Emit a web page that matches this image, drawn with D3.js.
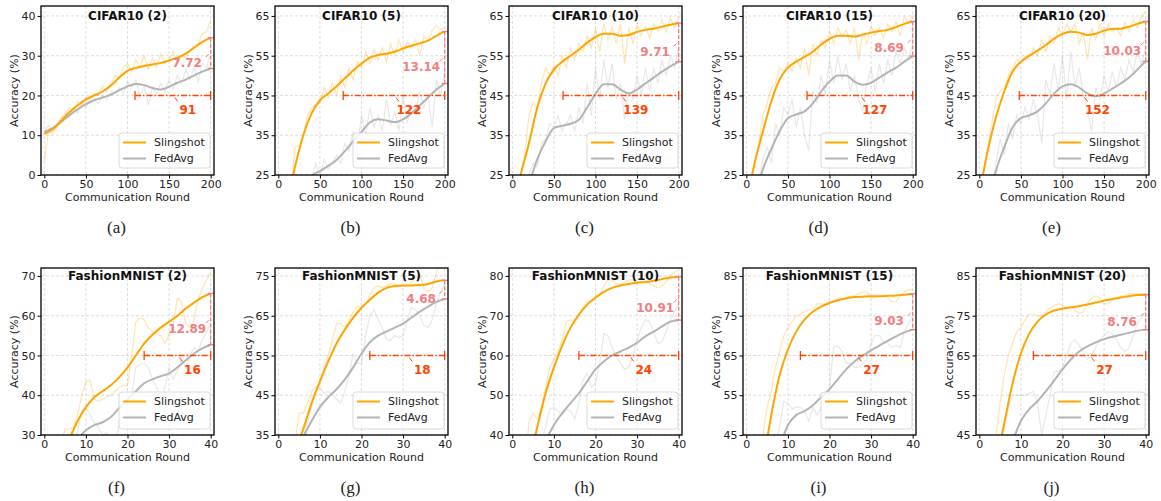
<!DOCTYPE html>
<html>
<head>
<meta charset="utf-8">
<script src="https://cdn.jsdelivr.net/npm/d3@7"></script>
<style>
    body { margin: 0; background: #fff; }
    svg text { font-family: 'DejaVu Sans', sans-serif; fill: #222; }
</style>
</head>
<body>
<svg id="chart" width="1161" height="501"></svg>
<script>
// rounds for the CIFAR10 panels (top) and FashionMNIST panels (bottom)
const cifarSmoothX = d3.range(0, 201, 10);
const cifarRawX = d3.range(0, 201, 5);
const fmnistSmoothX = d3.range(0, 41, 2);
const fmnistRawX = d3.range(0, 41, 1);

const titles = ['CIFAR10 (2)', 'CIFAR10 (5)', 'CIFAR10 (10)', 'CIFAR10 (15)', 'CIFAR10 (20)',
    'FashionMNIST (2)', 'FashionMNIST (5)', 'FashionMNIST (10)', 'FashionMNIST (15)', 'FashionMNIST (20)'];
const captions = ['(a)', '(b)', '(c)', '(d)', '(e)', '(f)', '(g)', '(h)', '(i)', '(j)'];
const yDomains = [[0, 42.5], [25, 67.5], [25, 67.5], [25, 67.5], [25, 67.5],
    [30, 72], [35, 77], [40, 82], [45, 87], [45, 87]];
const yTicks = [[0, 10, 20, 30, 40], [25, 35, 45, 55, 65], [25, 35, 45, 55, 65], [25, 35, 45, 55, 65], [25, 35, 45, 55, 65],
    [30, 40, 50, 60, 70], [35, 45, 55, 65, 75], [40, 50, 60, 70, 80], [45, 55, 65, 75, 85], [45, 55, 65, 75, 85]];
const cifarXTicks = [0, 50, 100, 150, 200];
const fmnistXTicks = [0, 10, 20, 30, 40];

// annotations: accuracy gap at the last round, rounds saved at a target accuracy
const accGap = ['7.72', '13.14', '9.71', '8.69', '10.03', '12.89', '4.68', '10.91', '9.03', '8.76'];
const roundGap = [91, 122, 139, 127, 152, 16, 18, 24, 27, 27];
const targetAcc = [20, 45, 45, 45, 45, 50, 55, 60, 65, 65];

// smoothed curves
const c2Sling = [10.3, 11.5, 13.5, 15.8, 17.5, 19, 20, 21, 22.5, 24.5, 26.2, 26.9, 27.4, 27.8, 28.2, 28.8, 29.5, 30.5, 32, 33.5, 34.5];
const c2Fed = [10.8, 11.8, 13.3, 15, 16.5, 17.8, 18.8, 19.5, 20.2, 21.3, 22.3, 22.9, 22.6, 21.9, 21.5, 22.2, 23.2, 24, 25, 26, 26.8];
const c5Sling = [10, 17, 27, 35, 40.5, 43.8, 45.5, 47.3, 49.3, 51.3, 53, 54.5, 55.2, 55.5, 56, 56.8, 57.5, 58.1, 58.8, 60, 61.1];
const c5Fed = [10, 14, 18, 21.5, 24.8, 26, 27.3, 28.8, 31, 33.5, 35.8, 38.2, 39, 38.7, 38.3, 39, 40.5, 42.5, 44.5, 46.5, 48];
const c10Sling = [15, 25, 33, 42, 48, 51.5, 53.5, 55, 56.5, 58.3, 59.7, 60.5, 60.5, 60, 60.2, 61, 61.5, 61.8, 62.3, 62.8, 63.2];
const c10Fed = [10, 15, 22.5, 29, 33.5, 36.8, 37.4, 37.9, 38.9, 42, 45.4, 47.8, 47.8, 46.5, 45.5, 46.5, 48, 49.5, 51, 52.3, 53.5];
const c15Sling = [18, 28, 36, 43.5, 49, 52, 53.5, 54.7, 56, 57.8, 59.2, 60, 60, 59.8, 60.3, 60.8, 61.2, 61.5, 62.2, 63, 63.6];
const c15Fed = [12, 19, 26.5, 31.5, 36, 39.3, 40.2, 41, 43, 46, 48.5, 50, 50, 48.5, 47.7, 48.2, 49.5, 50.8, 52, 53.5, 54.9];
const c20Sling = [20, 31, 39.5, 46, 51, 53.5, 55, 56.3, 57.7, 59.3, 60.5, 61, 60.8, 60.2, 60.5, 61.3, 61.7, 61.8, 62.3, 63, 63.6];
const c20Fed = [10, 17, 26, 32, 37, 39.3, 40, 41, 43, 45.5, 47.3, 47.8, 47, 45.5, 44.8, 45.5, 46.7, 48, 49.5, 51.5, 53.6];
const f2Sling = [18, 21, 25, 29, 33.5, 37, 39.5, 41, 42.5, 44.5, 47, 50, 53, 55.2, 57, 58.5, 60, 61.8, 63.3, 64.7, 65.6];
const f2Fed = [20, 22, 24, 26.5, 29, 31.2, 32.5, 33.2, 34.5, 36.8, 39, 41, 43, 44, 44.8, 45.5, 47, 48.8, 50.5, 51.8, 52.7];
const f5Sling = [20, 25, 31, 36.5, 43, 48.5, 53.5, 58, 61.5, 64.5, 67, 69, 70.8, 72, 72.5, 72.6, 72.6, 72.7, 73, 73.6, 73.9];
const f5Fed = [22, 26, 30, 34.5, 38.5, 42, 44.5, 46.5, 49, 52, 55.5, 58.3, 60, 61, 62, 63, 64.5, 66, 67.3, 68.5, 69.2];
const f10Sling = [20, 26, 33, 42, 50.5, 57, 62.5, 67, 70.3, 72.8, 74.6, 76, 77, 77.6, 78, 78.3, 78.5, 78.8, 79.2, 79.6, 79.8];
const f10Fed = [20, 25, 30, 34.5, 38.5, 42.5, 45.5, 48, 50.5, 53.5, 56.5, 58.5, 60, 61, 62, 63.2, 64.8, 66, 67.3, 68.5, 68.9];
const f15Sling = [25, 30, 38, 50, 60, 66.5, 71, 74, 76, 77.3, 78.2, 78.9, 79.4, 79.7, 79.8, 79.9, 79.9, 80, 80.1, 80.3, 80.5];
const f15Fed = [25, 29, 33, 37, 42, 47.5, 50, 51, 52.5, 54.5, 56.5, 59, 61.5, 63.5, 65, 66.3, 67.5, 68.7, 69.8, 70.8, 71.5];
const f20Sling = [25, 30, 38, 48, 58, 65.5, 70.5, 73.5, 75.3, 76.3, 76.8, 77.1, 77.4, 77.8, 78.3, 78.8, 79.2, 79.6, 79.9, 80.2, 80.3];
const f20Fed = [25, 29, 33, 37.5, 43.5, 48.5, 51.5, 53.5, 56, 58.7, 61.5, 64, 66, 67.3, 68.3, 69.1, 69.7, 70.2, 70.7, 71.2, 71.5];

// raw (unsmoothed) curves
const c2SlingRaw = [3.5, 11, 10.5, 12, 14.5, 15, 17, 16, 18.5, 17.5, 19.5, 19, 20.5, 20, 22.5, 21, 23, 25, 24.5, 27, 28, 26, 29, 27, 30, 26.5, 29.5, 27, 30.5, 28, 29, 31, 28, 30, 29.5, 31, 32.5, 33, 35.5, 36, 39];
const c2FedRaw = [11, 12.5, 11, 13, 14, 15.5, 14.5, 17, 15.5, 18.5, 17, 18.5, 19, 18, 20, 19, 21, 20.5, 22, 20.5, 23.5, 22, 24, 19.5, 22.5, 17.5, 22, 20.5, 23, 21, 24, 21.5, 25, 23, 26.5, 24, 27, 23.5, 28, 27, 30.5];
const c5SlingRaw = [10, 12, 16, 21, 32, 32.5, 35, 40, 42, 42.5, 43, 47, 44.5, 48, 45, 50, 47, 52, 49, 53.5, 52, 56, 53, 56.5, 54, 57, 53.5, 58, 55, 59, 56, 58.5, 57, 59, 55, 60, 58.5, 61.5, 62.5, 61.5, 62];
const c5FedRaw = [10, 13, 15, 17, 19, 21, 22, 23, 24, 28, 24.5, 29, 26.5, 28, 30, 28, 33, 31, 36, 32, 40, 35, 42, 37, 40, 36, 44, 37.5, 41, 36, 45, 38, 43, 41, 46, 42, 45, 37, 49, 45, 51];
const c10SlingRaw = [15, 20, 25, 30, 40, 43, 42, 48, 52, 50, 52.5, 50, 55, 52, 57, 54, 58, 56, 60, 57, 62, 56, 63, 59, 62, 58, 63, 53, 62, 58, 63, 60, 62.5, 59.5, 63, 61, 64, 61, 64.5, 62, 65];
const c10FedRaw = [10, 12, 15, 20, 25, 28, 27, 33, 34, 38, 37, 40, 36, 38, 40, 36, 42, 38, 48, 40, 52, 44, 54, 47, 53, 44, 48, 39, 46, 44, 50, 45, 52, 46, 52, 48, 54, 50, 55, 52, 57];
const c15SlingRaw = [18, 22, 28, 33, 40, 43, 47, 48, 52, 51, 53, 51, 54.5, 52, 57, 50, 58, 55, 59, 57, 61, 58, 62, 60, 61.5, 58, 62, 54, 61, 58, 62.5, 60, 62, 59.5, 63, 61, 63.5, 60, 65, 63, 65.5];
const c15FedRaw = [12, 15, 19, 24, 29, 32, 28, 38, 35, 42, 40, 44, 37, 42, 35, 31, 46, 43, 50, 45, 54, 48, 55, 49, 53, 46, 50, 44, 41, 48, 52, 46, 53, 48, 54, 50, 56, 53, 57, 54, 58];
const c20SlingRaw = [20, 26, 32, 38, 44, 46, 47, 50, 52, 54, 53, 55, 54, 57, 55, 59, 56, 60, 58, 62, 60, 63, 61, 63, 58, 61, 54, 62, 59, 63, 60, 63, 61, 62, 60, 63.5, 61, 64, 62, 65, 66];
const c20FedRaw = [10, 13, 17, 22, 28, 34, 30, 38, 34, 40, 38, 42, 39, 44, 40, 33, 49, 45, 53, 46, 55, 44, 56, 47, 52, 45, 41, 36, 47, 44, 50, 46, 51, 47, 52, 49, 54, 51, 56, 53, 57];
const f2SlingRaw = [18, 19, 21, 24, 28, 31.5, 31.5, 32, 35, 40, 43.5, 43.8, 39, 38.5, 39, 39.5, 40, 41, 42, 42.5, 42.5, 50, 58.5, 59.5, 59, 57, 56, 55.5, 55, 53, 55, 58, 64.5, 63.5, 58, 57, 59, 64, 67, 69, 71];
const f2FedRaw = [20, 21, 22, 23, 24, 25, 27, 28, 31, 36, 37, 35, 33, 32, 30, 30.5, 28, 27, 33, 36, 39, 40, 47, 47.8, 48, 47, 44, 42, 39, 42, 47, 44, 46, 49, 47, 50, 52, 51, 54, 56, 58];
const f5SlingRaw = [20, 22, 25, 28, 33, 40.5, 40.5, 43, 46, 47, 48, 52, 55, 59, 63, 63, 62, 64, 66, 67.5, 67, 68, 70, 72, 72.5, 72, 72.5, 73, 73, 72.5, 72.5, 72.5, 73.5, 74.5, 75, 72, 71, 72, 76, 78, 80];
const f5FedRaw = [22, 24, 26, 28, 30, 32, 35, 38, 42, 46, 47, 45.5, 46, 45, 44, 43, 46, 50, 55.5, 53, 53, 60, 65, 66.5, 64, 62, 59, 58.8, 60, 59.5, 60, 64, 67, 66.5, 65, 62.5, 62, 64, 68, 71, 73];
const f10SlingRaw = [20, 23, 26, 30, 43.5, 45.5, 44, 47, 52, 57, 59, 61, 64, 68.5, 69, 68, 70, 72, 73.5, 73.5, 74, 75, 77.5, 79, 79, 78, 78, 78.5, 79, 79, 78.5, 78.5, 78.5, 78, 77.5, 77, 77.5, 78.5, 80, 81, 81.5];
const f10FedRaw = [20, 22, 25, 28, 30, 33, 35, 38, 42, 46.5, 47, 46, 45, 46.5, 46, 44, 48, 54, 55.5, 52, 53, 58, 65.5, 65, 62, 60, 58, 56.5, 57, 60, 64, 67, 69, 68.5, 66, 63, 63.5, 66, 69, 71, 73];
const f15SlingRaw = [25, 28, 31, 36, 45, 52, 56, 62, 66, 70, 72, 73.5, 75, 75.5, 76, 76.5, 76.5, 78, 78, 78, 78.5, 78.5, 79.5, 79, 79.5, 80, 80, 80.5, 81, 81, 79.5, 79.5, 80, 80, 79.5, 78.5, 78.5, 80, 81, 81.5, 81.5];
const f15FedRaw = [25, 27, 29, 31, 33, 36, 39, 43, 47, 53.5, 53, 51.5, 52, 52, 51, 48.5, 52, 50, 52, 48, 57, 67, 67.5, 66, 63, 63, 62, 62, 63, 64, 68, 70, 70, 68.5, 68, 67, 67.5, 67, 71, 73, 75];
const f20SlingRaw = [25, 28, 31, 36, 45, 53, 60, 65, 68, 71, 72, 74, 75.5, 75.5, 75, 75, 76, 77, 77.5, 78, 77.5, 77, 77, 76.5, 75.5, 76, 78, 79.5, 80, 79.5, 78, 78, 79, 79.5, 80, 80, 80.5, 80.5, 80.5, 80.5, 80.5];
const f20FedRaw = [25, 27, 30, 33, 36, 40, 46, 52, 55, 55, 55, 55, 55.5, 56, 53, 45, 50, 55, 61, 61, 62, 65, 68, 69, 67.5, 66, 64, 65, 67, 69, 70, 71, 70.5, 69, 67, 66, 67, 70, 73, 74.5, 76];

const slingSmooth = [c2Sling, c5Sling, c10Sling, c15Sling, c20Sling, f2Sling, f5Sling, f10Sling, f15Sling, f20Sling];
const fedSmooth = [c2Fed, c5Fed, c10Fed, c15Fed, c20Fed, f2Fed, f5Fed, f10Fed, f15Fed, f20Fed];
const slingRaw = [c2SlingRaw, c5SlingRaw, c10SlingRaw, c15SlingRaw, c20SlingRaw, f2SlingRaw, f5SlingRaw, f10SlingRaw, f15SlingRaw, f20SlingRaw];
const fedRaw = [c2FedRaw, c5FedRaw, c10FedRaw, c15FedRaw, c20FedRaw, f2FedRaw, f5FedRaw, f10FedRaw, f15FedRaw, f20FedRaw];

const ORANGE = '#FFA500';
const GRAY = '#b4b4b4';
const RED = '#FF4500';
const CORAL = '#F08080';

const svg = d3.select('#chart');
svg.append('rect').attr('width', 1161).attr('height', 501).attr('fill', '#fff');

const lefts = [41, 275, 509, 743, 976];
const panelW = 173;

function panel(i) {
    const top = i < 5;
    const x0 = lefts[i % 5];
    const y0 = top ? 6 : 268;
    const h = top ? 169 : 167;
    const maxRound = top ? 200 : 40;

    const x = d3.scaleLinear()
        .domain(top ? [-4, 204] : [-0.8, 40.8])
        .range([0, panelW]);
    const y = d3.scaleLinear().domain(yDomains[i]).range([h, 0]);
    const xTicks = top ? cifarXTicks : fmnistXTicks;

    const g = svg.append('g').attr('transform', `translate(${x0},${y0})`);

    g.append('clipPath').attr('id', 'clip' + i)
        .append('rect').attr('width', panelW).attr('height', h);

    // grid
    g.append('g').selectAll('line').data(xTicks).join('line')
        .attr('x1', d => x(d)).attr('x2', d => x(d))
        .attr('y1', 0).attr('y2', h)
        .attr('stroke', '#d4d4d4').attr('stroke-width', 0.8).attr('stroke-dasharray', '3,2');
    g.append('g').selectAll('line').data(yTicks[i]).join('line')
        .attr('x1', 0).attr('x2', panelW)
        .attr('y1', d => y(d)).attr('y2', d => y(d))
        .attr('stroke', '#d4d4d4').attr('stroke-width', 0.8).attr('stroke-dasharray', '3,2');

    const plot = g.append('g').attr('clip-path', `url(#clip${i})`);
    const rawLine = d3.line().x(d => x(d[0])).y(d => y(d[1]));
    const smoothLine = d3.line().x(d => x(d[0])).y(d => y(d[1])).curve(d3.curveMonotoneX);
    const rawX = top ? cifarRawX : fmnistRawX;
    const smX = top ? cifarSmoothX : fmnistSmoothX;

    plot.append('path').datum(d3.zip(rawX, fedRaw[i]))
        .attr('d', rawLine).attr('fill', 'none')
        .attr('stroke', '#bdbdbd').attr('stroke-opacity', 0.35).attr('stroke-width', 1.2);
    plot.append('path').datum(d3.zip(rawX, slingRaw[i]))
        .attr('d', rawLine).attr('fill', 'none')
        .attr('stroke', ORANGE).attr('stroke-opacity', 0.3).attr('stroke-width', 1.2);
    plot.append('path').datum(d3.zip(smX, fedSmooth[i]))
        .attr('d', smoothLine).attr('fill', 'none')
        .attr('stroke', GRAY).attr('stroke-width', 2);
    plot.append('path').datum(d3.zip(smX, slingSmooth[i]))
        .attr('d', smoothLine).attr('fill', 'none')
        .attr('stroke', ORANGE).attr('stroke-width', 2);

    // rounds-saved annotation (dash-dot with end caps)
    const hy = y(targetAcc[i]);
    const hx1 = x(maxRound - roundGap[i]);
    const hx2 = x(maxRound);
    const ann = g.append('g');
    ann.append('line').attr('x1', hx1).attr('x2', hx2).attr('y1', hy).attr('y2', hy)
        .attr('stroke', RED).attr('stroke-width', 1.4).attr('stroke-dasharray', '6,2,1.5,2');
    [hx1, hx2].forEach(px => {
        ann.append('line').attr('x1', px).attr('x2', px).attr('y1', hy - 4.5).attr('y2', hy + 4.5)
            .attr('stroke', RED).attr('stroke-width', 1.3);
    });
    const hmid = (hx1 + hx2) / 2;
    ann.append('line').attr('x1', hmid + 2).attr('y1', hy + 2).attr('x2', hmid + 5).attr('y2', hy + 6)
        .attr('stroke', RED).attr('stroke-width', 1);
    ann.append('text').attr('x', hmid + 15).attr('y', hy + 15)
        .attr('text-anchor', 'middle').attr('dominant-baseline', 'central')
        .attr('font-size', 12).attr('font-weight', 'bold').style('fill', RED)
        .text(roundGap[i]);

    // accuracy-gap annotation at the last round
    const sEnd = y(slingSmooth[i][slingSmooth[i].length - 1]);
    const fEnd = y(fedSmooth[i][fedSmooth[i].length - 1]);
    const vx = x(maxRound);
    ann.append('line').attr('x1', vx).attr('x2', vx).attr('y1', sEnd).attr('y2', fEnd)
        .attr('stroke', CORAL).attr('stroke-width', 1.3).attr('stroke-dasharray', '4,2');
    [sEnd, fEnd].forEach(py => {
        ann.append('line').attr('x1', vx - 3).attr('x2', vx + 3).attr('y1', py).attr('y2', py)
            .attr('stroke', CORAL).attr('stroke-width', 1.3);
    });
    const vmid = (sEnd + fEnd) / 2;
    ann.append('line').attr('x1', vx - 5).attr('y1', vmid + 4).attr('x2', vx - 2).attr('y2', vmid + 1)
        .attr('stroke', CORAL).attr('stroke-width', 1);
    ann.append('text').attr('x', vx - 23.5).attr('y', vmid + 9.5)
        .attr('text-anchor', 'middle').attr('dominant-baseline', 'central')
        .attr('font-size', 12).attr('font-weight', 'bold').style('fill', CORAL)
        .text(accGap[i]);

    // legend
    const lg = g.append('g').attr('transform', `translate(${panelW - 95},${h - (top ? 42 : 43)})`);
    lg.append('rect').attr('width', 91).attr('height', top ? 35 : 37).attr('rx', 3)
        .attr('fill', '#fff').attr('fill-opacity', 0.8).attr('stroke', '#d0d0d0').attr('stroke-width', 0.8);
    [['Slingshot', ORANGE], ['FedAvg', GRAY]].forEach(([name, col], k) => {
        const ly = 9.5 + k * 16;
        lg.append('line').attr('x1', 4).attr('x2', 27).attr('y1', ly).attr('y2', ly)
            .attr('stroke', col).attr('stroke-width', 2);
        lg.append('text').attr('x', 35).attr('y', ly).attr('dominant-baseline', 'central')
            .attr('font-size', 11).text(name);
    });

    // frame and axes
    g.append('rect').attr('width', panelW).attr('height', h)
        .attr('fill', 'none').attr('stroke', '#000').attr('stroke-width', 1.3);

    const xAxis = g.append('g').attr('transform', `translate(0,${h})`)
        .call(d3.axisBottom(x).tickValues(xTicks).tickSize(3.5).tickPadding(2));
    const yAxis = g.append('g')
        .call(d3.axisLeft(y).tickValues(yTicks[i]).tickSize(3.5).tickPadding(2));
    [xAxis, yAxis].forEach(ax => {
        ax.select('.domain').remove();
        ax.selectAll('line').attr('stroke', '#000');
        ax.selectAll('text').attr('font-size', 11).attr('font-family', 'DejaVu Sans').style('fill', '#222');
    });

    g.append('text').attr('x', panelW / 2).attr('y', top ? 10 : 8)
        .attr('text-anchor', 'middle').attr('dominant-baseline', 'central')
        .attr('font-size', 12).attr('font-weight', 'bold').style('fill', '#111')
        .text(titles[i]);

    g.append('text').attr('x', panelW / 2).attr('y', h + 22)
        .attr('text-anchor', 'middle').attr('dominant-baseline', 'central')
        .attr('font-size', 11).text('Communication Round');

    g.append('text')
        .attr('transform', `translate(-27,${h / 2}) rotate(-90)`)
        .attr('text-anchor', 'middle').attr('dominant-baseline', 'central')
        .attr('font-size', 11).text('Accuracy (%)');

    g.append('text').attr('x', panelW / 2 - 11).attr('y', h + 52)
        .attr('text-anchor', 'middle').attr('dominant-baseline', 'central')
        .attr('font-size', 17).style('font-family', "'Liberation Serif', 'Times New Roman', serif")
        .text(captions[i]);
}

d3.range(10).forEach(panel);
</script>
</body>
</html>
